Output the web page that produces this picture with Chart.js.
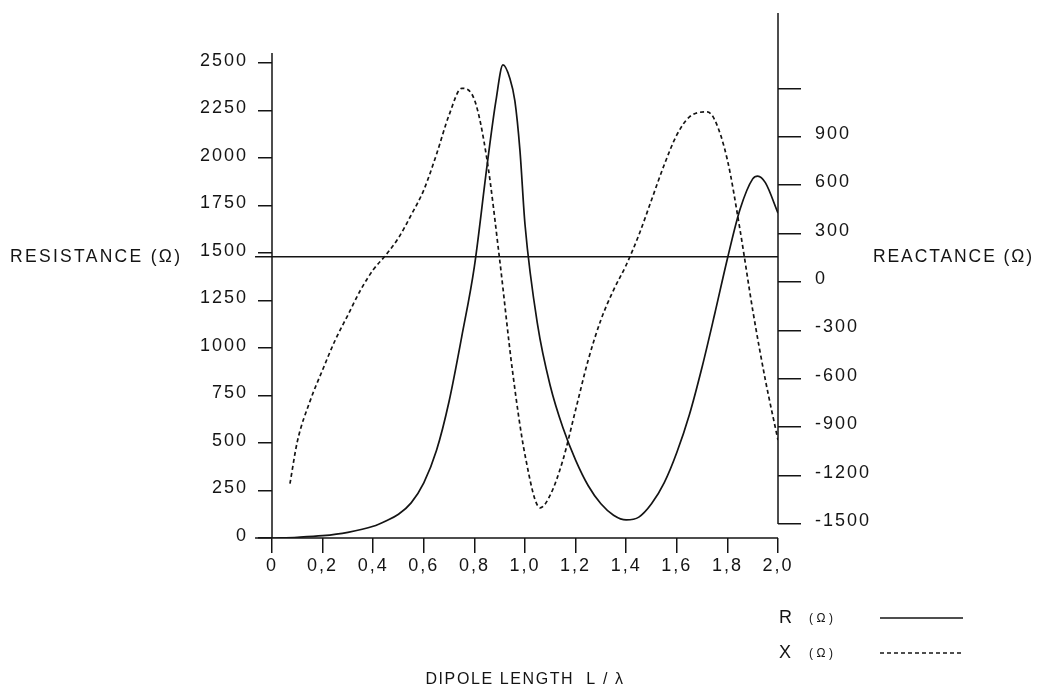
<!DOCTYPE html>
<html>
<head>
<meta charset="utf-8">
<script src="https://cdn.jsdelivr.net/npm/chart.js@4.4.1/dist/chart.umd.min.js"></script>
<style>
  html, body { margin: 0; padding: 0; background: #fff; }
  #wrap { width: 1046px; height: 693px; position: relative; }
</style>
</head>
<body>
<div id="wrap"><canvas id="chart"></canvas></div>
<script>
// tick values and labels
const lengthTicks = [0, 0.2, 0.4, 0.6, 0.8, 1.0, 1.2, 1.4, 1.6, 1.8, 2.0];
const lengthLabels = ['0', '0,2', '0,4', '0,6', '0,8', '1,0', '1,2', '1,4', '1,6', '1,8', '2,0'];
const resistanceTicks = [0, 250, 500, 750, 1000, 1250, 1500, 1750, 2000, 2250, 2500];
const reactanceTicks = [-1500, -1200, -900, -600, -300, 0, 300, 600, 900, 1200];
const reactanceLabels = ['-1500', '-1200', '-900', '-600', '-300', '0', '300', '600', '900', ''];

// R (ohm) vs L/lambda
const rLength = [0, 0.1, 0.2, 0.3, 0.4, 0.45, 0.5, 0.55, 0.6, 0.65, 0.7, 0.75, 0.8, 0.85, 0.885, 0.913, 0.94, 0.96, 0.98, 1.0, 1.05, 1.1, 1.15, 1.2, 1.25, 1.3, 1.35, 1.4, 1.45, 1.5, 1.55, 1.6, 1.65, 1.7, 1.75, 1.8, 1.85, 1.9, 1.92, 1.95, 2.0];
const rValues = [0, 4, 12, 30, 62, 90, 125, 185, 290, 460, 720, 1060, 1430, 1960, 2300, 2490, 2420, 2300, 2040, 1650, 1120, 800, 580, 410, 275, 180, 120, 95, 110, 180, 290, 450, 650, 900, 1180, 1470, 1730, 1890, 1905, 1870, 1710];

// X (ohm) vs L/lambda
const xLength = [0.071, 0.1, 0.15, 0.2, 0.25, 0.3, 0.35, 0.4, 0.45, 0.5, 0.55, 0.6, 0.65, 0.7, 0.75, 0.8, 0.85, 0.9, 0.95, 1.0, 1.06, 1.1, 1.15, 1.2, 1.25, 1.3, 1.35, 1.4, 1.45, 1.5, 1.55, 1.6, 1.65, 1.72, 1.75, 1.8, 1.85, 1.9, 1.95, 2.0];
const xValues = [-1250, -990, -740, -545, -360, -205, -50, 75, 167, 273, 415, 570, 790, 1035, 1200, 1130, 756, 136, -545, -1072, -1400, -1320, -1103, -793, -483, -235, -50, 105, 291, 508, 725, 911, 1023, 1054, 1004, 756, 322, -174, -607, -980];

// horizontal reference line (on resistance axis)
const baseLength = [-0.067, 2.0];
const baseResistance = [1480, 1480];

const ink = '#141414';
const fontFamily = '"Liberation Sans", Arial, Helvetica, sans-serif';
Chart.defaults.font.family = fontFamily;
Chart.defaults.font.size = 18;
Chart.defaults.color = ink;

const toPoints = (xs, ys) => xs.map((v, i) => ({ x: v, y: ys[i] }));

const frame = {
    id: 'frame',
    beforeDraw(chart) {
        const ctx = chart.ctx;
        ctx.save();
        ctx.fillStyle = '#fff';
        ctx.fillRect(0, 0, chart.width, chart.height);
        ctx.restore();
        ctx.letterSpacing = '2px';
    },
    beforeDatasetsDraw(chart) {
        const { ctx, scales: { x, yR, yX } } = chart;
        const x0 = x.getPixelForValue(0);
        const x2 = x.getPixelForValue(2);
        const y0 = yR.getPixelForValue(0);
        ctx.save();
        ctx.strokeStyle = ink;
        ctx.lineWidth = 1.5;
        ctx.beginPath();
        ctx.moveTo(x0, y0);
        ctx.lineTo(x0, yR.getPixelForValue(2553));
        ctx.moveTo(x.getPixelForValue(baseLength[0]), y0);
        ctx.lineTo(x2, y0);
        ctx.moveTo(x2, yX.getPixelForValue(-1500));
        ctx.lineTo(x2, chart.chartArea.top);
        ctx.stroke();
        ctx.restore();
    },
    afterDraw(chart) {
        const { ctx, chartArea, scales: { yR } } = chart;
        ctx.save();
        ctx.fillStyle = ink;
        ctx.textBaseline = 'middle';
        ctx.font = '17.5px ' + fontFamily;
        ctx.letterSpacing = '2.3px';
        const midY = yR.getPixelForValue(baseResistance[0]);
        ctx.textAlign = 'left';
        ctx.fillText('RESISTANCE (Ω)', 10, midY);
        ctx.letterSpacing = '1.9px';
        ctx.fillText('REACTANCE (Ω)', 873, midY);
        ctx.textAlign = 'center';
        ctx.font = '16px ' + fontFamily;
        ctx.letterSpacing = '1.6px';
        ctx.fillText('DIPOLE LENGTH  L / λ', (chartArea.left + chartArea.right) / 2, 680);

        // legend
        const items = [
            { label: 'R', y: 618, dash: [] },
            { label: 'X', y: 653, dash: [4, 3] }
        ];
        items.forEach(it => {
            ctx.textAlign = 'left';
            ctx.font = '18px ' + fontFamily;
            ctx.letterSpacing = '0px';
            ctx.fillText(it.label, 779, it.y);
            ctx.font = '12px ' + fontFamily;
            ctx.letterSpacing = '3.5px';
            ctx.fillText('(Ω)', 809, it.y + 1);
            ctx.beginPath();
            ctx.setLineDash(it.dash);
            ctx.strokeStyle = ink;
            ctx.lineWidth = 1.4;
            ctx.moveTo(880, it.y);
            ctx.lineTo(963, it.y);
            ctx.stroke();
        });
        ctx.restore();
    }
};

const tickGrid = len => ({
    drawOnChartArea: false,
    drawTicks: true,
    tickLength: len,
    color: ink,
    lineWidth: 1.5
});

const noPad = s => {
    s.paddingTop = 0;
    s.paddingBottom = 0;
    s.paddingLeft = 0;
    s.paddingRight = 0;
};

new Chart(document.getElementById('chart'), {
    type: 'line',
    data: {
        datasets: [
            {
                label: 'R',
                data: toPoints(rLength, rValues),
                yAxisID: 'yR',
                borderColor: ink,
                borderWidth: 1.7,
                pointRadius: 0,
                cubicInterpolationMode: 'monotone'
            },
            {
                label: 'X',
                data: toPoints(xLength, xValues),
                yAxisID: 'yX',
                borderColor: ink,
                borderWidth: 1.7,
                borderDash: [4, 3],
                pointRadius: 0,
                cubicInterpolationMode: 'monotone'
            },
            {
                label: 'base',
                data: toPoints(baseLength, baseResistance),
                yAxisID: 'yR',
                borderColor: ink,
                borderWidth: 1.5,
                pointRadius: 0,
                clip: false
            }
        ]
    },
    options: {
        responsive: true,
        maintainAspectRatio: false,
        animation: false,
        layout: { padding: { top: 13, left: 0, right: 0, bottom: 0 } },
        plugins: {
            legend: { display: false },
            tooltip: { enabled: false }
        },
        scales: {
            x: {
                type: 'linear',
                position: 'bottom',
                min: 0,
                max: 2,
                grid: tickGrid(15),
                border: { display: false },
                afterBuildTicks: s => { s.ticks = lengthTicks.map(v => ({ value: v })); },
                afterFit: s => { s.height = 155; noPad(s); },
                ticks: {
                    autoSkip: false,
                    maxRotation: 0,
                    padding: 2,
                    callback: (v, i) => lengthLabels[i]
                }
            },
            yR: {
                type: 'linear',
                position: 'left',
                min: 0,
                max: 2763,
                grid: tickGrid(14),
                border: { display: false },
                afterBuildTicks: s => { s.ticks = resistanceTicks.map(v => ({ value: v })); },
                afterFit: s => { s.width = 272; noPad(s); },
                ticks: {
                    autoSkip: false,
                    padding: 10,
                    labelOffset: -2,
                    callback: v => String(v)
                }
            },
            yX: {
                type: 'linear',
                position: 'right',
                min: -1587,
                max: 1667,
                grid: tickGrid(23),
                border: { display: false },
                afterBuildTicks: s => { s.ticks = reactanceTicks.map(v => ({ value: v })); },
                afterFit: s => { s.width = 268; noPad(s); },
                ticks: {
                    autoSkip: false,
                    padding: 14,
                    labelOffset: -3,
                    callback: (v, i) => reactanceLabels[i]
                }
            }
        }
    },
    plugins: [frame]
});
</script>
</body>
</html>
